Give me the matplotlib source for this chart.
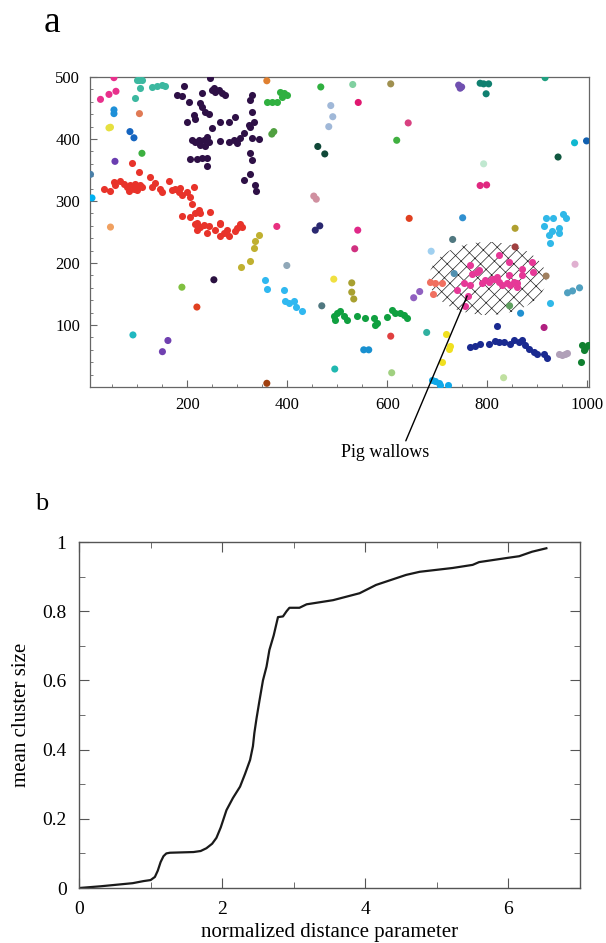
import matplotlib

matplotlib.use("Agg")
import matplotlib.pyplot as plt
from matplotlib.patches import Ellipse
from matplotlib.ticker import MultipleLocator

# ---- panel a: animal positions, one list per cluster ----
red_x = [33, 46, 53, 56, 66, 73, 79, 83, 86, 93, 96, 99, 103, 106, 109, 126, 129, 136, 146, 149,
         163, 169, 176, 183, 186, 189, 199, 206, 209, 213, 216, 223, 226, 246, 189, 206, 219, 233,
         243, 266, 219, 216, 226, 239, 256, 266, 266, 273, 279, 283, 296, 299, 306, 309, 89]
red_y = [320, 316, 331, 326, 333, 328, 323, 316, 326, 320, 327, 317, 347, 326, 323, 338, 323, 329,
         320, 314, 333, 318, 319, 315, 321, 310, 315, 307, 296, 323, 280, 285, 280, 283, 276, 275,
         264, 261, 259, 264, 253, 263, 258, 249, 253, 263, 244, 249, 253, 243, 251, 256, 263, 258, 362]

purple_x = [246, 249, 256, 263, 253, 269, 276, 179, 193, 189, 203, 229, 226, 229, 213, 216, 199,
            236, 243, 266, 283, 296, 249, 209, 216, 223, 226, 233, 239, 243, 236, 266, 283, 293,
            299, 306, 313, 323, 333, 326, 329, 343, 329, 326, 329, 326, 329, 206, 219, 229, 239,
            239, 326, 313, 336, 337]
purple_y = [499, 479, 476, 479, 482, 474, 471, 471, 485, 469, 460, 474, 458, 452, 439, 433, 428,
            444, 441, 427, 428, 435, 417, 398, 396, 398, 390, 398, 404, 396, 388, 397, 396, 398,
            393, 401, 409, 423, 428, 420, 401, 400, 444, 463, 471, 378, 366, 367, 368, 370, 369,
            356, 344, 334, 326, 316]

teal_x = [99, 109, 106, 96, 129, 139, 149, 156, 103]
teal_y = [495, 495, 482, 467, 484, 485, 487, 485, 496]

green_x = [493, 496, 499, 506, 513, 519, 539, 556, 573, 576, 579, 599, 609, 616, 626, 633, 639]
green_y = [114, 108, 119, 123, 114, 108, 114, 112, 111, 100, 103, 113, 124, 119, 120, 116, 111]

sky_x = [356, 359, 393, 396, 403, 413, 418, 429]
sky_y = [172, 158, 157, 138, 135, 139, 129, 123]

navy_x = [766, 776, 786, 803, 816, 823, 833, 846, 853, 863, 869, 876, 883, 893, 899, 913, 919, 819]
navy_y = [64, 66, 69, 69, 75, 73, 72, 70, 76, 72, 76, 68, 62, 57, 54, 54, 46, 99]

pig_x = [739, 753, 766, 769, 779, 783, 766, 789, 803, 809, 816, 823, 823, 829, 839, 843, 843, 846,
         859, 859, 869, 869, 889, 891, 756, 761, 796, 819, 853]
pig_y = [157, 167, 165, 183, 186, 189, 197, 167, 170, 175, 175, 213, 170, 165, 168, 202, 181, 165,
         167, 162, 191, 181, 202, 186, 130, 147, 173, 178, 170]

salmon_x = [686, 696, 709, 691]
salmon_y = [170, 167, 167, 150]

olive_x = [343, 336, 333, 326, 307]
olive_y = [245, 236, 224, 203, 193]

cyan_x = [913, 923, 926, 943, 943, 929, 918, 931, 951, 957, 926]
cyan_y = [259, 245, 232, 256, 248, 251, 272, 272, 279, 273, 135]

lblue_x = [689, 696, 703, 706, 721]
lblue_y = [11, 9, 6, 3, 4]

yellow_x = [718, 726, 723, 709]
yellow_y = [86, 66, 61, 41]

mauve_x = [943, 949, 956, 959]
mauve_y = [54, 52, 54, 55]

dgreen_x = [989, 996, 1001, 993, 987]
dgreen_y = [68, 63, 67, 60, 41]

lgreen2_x = [359, 369, 379, 386, 393, 399, 389]
lgreen2_y = [460, 459, 460, 476, 474, 471, 468]

# scattered single animals (position, then colour list below)
single_x = [53, 26, 43, 57, 53, 53, 104, 43, 46, 85, 93, 109, 55, 6, 9, 46, 379, 456, 465, 541,
            535, 399, 253, 493, 529, 529, 533, 189, 219, 469, 91, 161, 150, 553, 563, 495, 359,
            607, 609, 679, 653, 665, 688, 731, 734, 856, 856, 918, 845, 867, 976, 961, 971, 985,
            914, 833, 531, 607, 542, 642, 619, 743, 746, 749, 786, 793, 803, 798, 916, 975, 999,
            942, 793, 786, 799, 644, 751, 359, 369, 373, 467, 487, 491, 483, 461, 475, 453, 458]
single_y = [499, 464, 472, 477, 447, 441, 441, 418, 419, 412, 402, 377, 364, 343, 305, 258, 259,
            253, 260, 253, 223, 196, 173, 174, 168, 153, 142, 161, 129, 131, 84, 75, 57, 60, 60,
            29, 6, 82, 23, 88, 144, 154, 219, 238, 183, 256, 226, 179, 131, 119, 198, 152, 155, 160,
            96, 15, 488, 489, 459, 426, 398, 487, 482, 484, 490, 489, 489, 473, 499, 394, 397,
            371, 360, 325, 326, 272, 273, 494, 408, 412, 484, 454, 436, 420, 388, 376, 308, 303]
single_c = ["#e8308c", "#e8308c", "#e8308c", "#e8308c", "#1e90d8", "#1e90d8", "#e07a55", "#e6e040",
            "#e6e040", "#1565c0", "#1565c0", "#3cb040", "#6a3db0", "#4a80a8", "#00b0f0", "#f0a060",
            "#e83080", "#2a2870", "#2a2870", "#e02888", "#d03080", "#90a8b8", "#2a1040", "#f0e040",
            "#a8a030", "#a8a030", "#a8a030", "#80c040", "#e04020", "#507880", "#20b8c0", "#7040b0",
            "#7040b0", "#1890d0", "#1890d0", "#20b8b0", "#a04010", "#e04040", "#a0d080", "#30b0a0",
            "#9060c0", "#9060c0", "#a0d0f0", "#507880", "#5090b0", "#b0a030", "#a04040", "#a08060",
            "#60a060", "#2090d0", "#e0b0d0", "#50a0c0", "#50a0c0", "#50a0c0", "#b02080", "#c0e0a0",
            "#80d0a0", "#a09050", "#e01870", "#d84080", "#40b040", "#7050b0", "#7050b0", "#7050b0",
            "#108070", "#108070", "#108070", "#108070", "#20a080", "#10b8d0", "#1060b0", "#105840",
            "#c0e8d0", "#e02880", "#e02880", "#e04020", "#3090d0", "#e08030", "#50a040", "#50a040",
            "#30b040", "#a0b8d8", "#a0b8d8", "#a0b8d8", "#104838", "#104838", "#d090a0", "#d090a0"]

# ---- panel b: mean cluster size vs normalized distance ----
b_x = [0.0, 0.3, 0.75, 0.9, 1.0, 1.06, 1.1, 1.14, 1.18, 1.22, 1.27, 1.6, 1.7, 1.78, 1.86, 1.92,
       1.98, 2.06, 2.15, 2.25, 2.32, 2.39, 2.43, 2.45, 2.48, 2.52, 2.57, 2.62, 2.66, 2.72, 2.78,
       2.85, 2.9, 2.94, 3.04, 3.08, 3.18, 3.55, 3.92, 4.15, 4.57, 4.76, 5.22, 5.5, 5.59, 5.98,
       6.15, 6.33, 6.53]
b_y = [0.0, 0.005, 0.014, 0.02, 0.023, 0.032, 0.05, 0.075, 0.092, 0.1, 0.102, 0.104, 0.107,
       0.115, 0.128, 0.145, 0.175, 0.225, 0.26, 0.293, 0.33, 0.37, 0.41, 0.448, 0.49, 0.54, 0.6,
       0.64, 0.688, 0.73, 0.783, 0.785, 0.8, 0.81, 0.81, 0.81, 0.82, 0.832, 0.852, 0.876, 0.905,
       0.914, 0.925, 0.934, 0.942, 0.954, 0.959, 0.972, 0.982]

plt.rcParams["font.family"] = "serif"
plt.rcParams["font.serif"] = ["Liberation Serif", "DejaVu Serif"]
plt.rcParams["hatch.linewidth"] = 0.5

fig = plt.figure(figsize=(6.06, 9.43), dpi=100)
axa = fig.add_axes([0.1485, 0.5896, 0.8235, 0.3287])
axb = fig.add_axes([0.1304, 0.0583, 0.8267, 0.3669])

# panel a
axa.add_patch(Ellipse((801, 175), 235, 118, facecolor="none", edgecolor="#222222",
                      linewidth=0, hatch="xx/", zorder=1))
clusters = [
    (red_x, red_y, "#e8332a"), (purple_x, purple_y, "#2e1046"), (teal_x, teal_y, "#3cb8a0"),
    (green_x, green_y, "#10a040"), (sky_x, sky_y, "#30b8f0"), (navy_x, navy_y, "#1a2a90"),
    (pig_x, pig_y, "#e63897"), (salmon_x, salmon_y, "#f07060"), (olive_x, olive_y, "#c0b030"),
    (cyan_x, cyan_y, "#30b8e8"), (lblue_x, lblue_y, "#10a8e8"), (yellow_x, yellow_y, "#f0e020"),
    (mauve_x, mauve_y, "#b0a0b8"), (dgreen_x, dgreen_y, "#108030"),
    (lgreen2_x, lgreen2_y, "#30b040"),
]
for xs, ys, col in clusters:
    axa.scatter(xs, ys, s=26, color=col, linewidths=0, zorder=3)
axa.scatter(single_x, single_y, s=26, c=single_c, linewidths=0, zorder=3)

axa.set_xlim(5, 1004)
axa.set_ylim(0, 500)
axa.set_xticks([200, 400, 600, 800, 1000])
axa.set_yticks([100, 200, 300, 400, 500])
axa.xaxis.set_minor_locator(MultipleLocator(50))
axa.yaxis.set_minor_locator(MultipleLocator(20))
axa.tick_params(which="both", direction="in", labelsize=12, color="#666666",
                top=False, right=False)
axa.tick_params(which="major", length=5, pad=7)
axa.tick_params(which="minor", length=2.5)
for sp in axa.spines.values():
    sp.set_color("#666666")
    sp.set_linewidth(0.9)

axa.annotate("Pig wallows", xy=(760, 147), xytext=(596, -105), fontsize=13,
             ha="center", va="center", annotation_clip=False,
             arrowprops=dict(arrowstyle="-", color="black", lw=1.0, shrinkA=0, shrinkB=0,
                             relpos=(0.72, 1.0)))
fig.text(0.072, 0.966, "a", fontsize=27, ha="left", va="baseline")

# panel b
axb.plot(b_x, b_y, color="#1a1a1a", lw=1.6)
axb.set_xlim(0, 7)
axb.set_ylim(0, 1)
axb.set_xticks([0, 2, 4, 6])
axb.set_yticks([0, 0.2, 0.4, 0.6, 0.8, 1])
axb.set_yticklabels(["0", "0.2", "0.4", "0.6", "0.8", "1"])
axb.xaxis.set_minor_locator(MultipleLocator(1))
axb.yaxis.set_minor_locator(MultipleLocator(0.1))
axb.tick_params(which="both", direction="in", labelsize=14, color="#555555",
                top=True, right=True)
axb.tick_params(which="major", length=7, pad=9)
axb.tick_params(which="minor", length=4)
for sp in axb.spines.values():
    sp.set_color("#555555")
    sp.set_linewidth(1.0)
axb.set_xlabel("normalized distance parameter", fontsize=15, labelpad=4)
axb.set_ylabel("mean cluster size", fontsize=15, labelpad=8)
fig.text(0.058, 0.459, "b", fontsize=19, ha="left", va="baseline")

fig.savefig("out.png", dpi=100)
